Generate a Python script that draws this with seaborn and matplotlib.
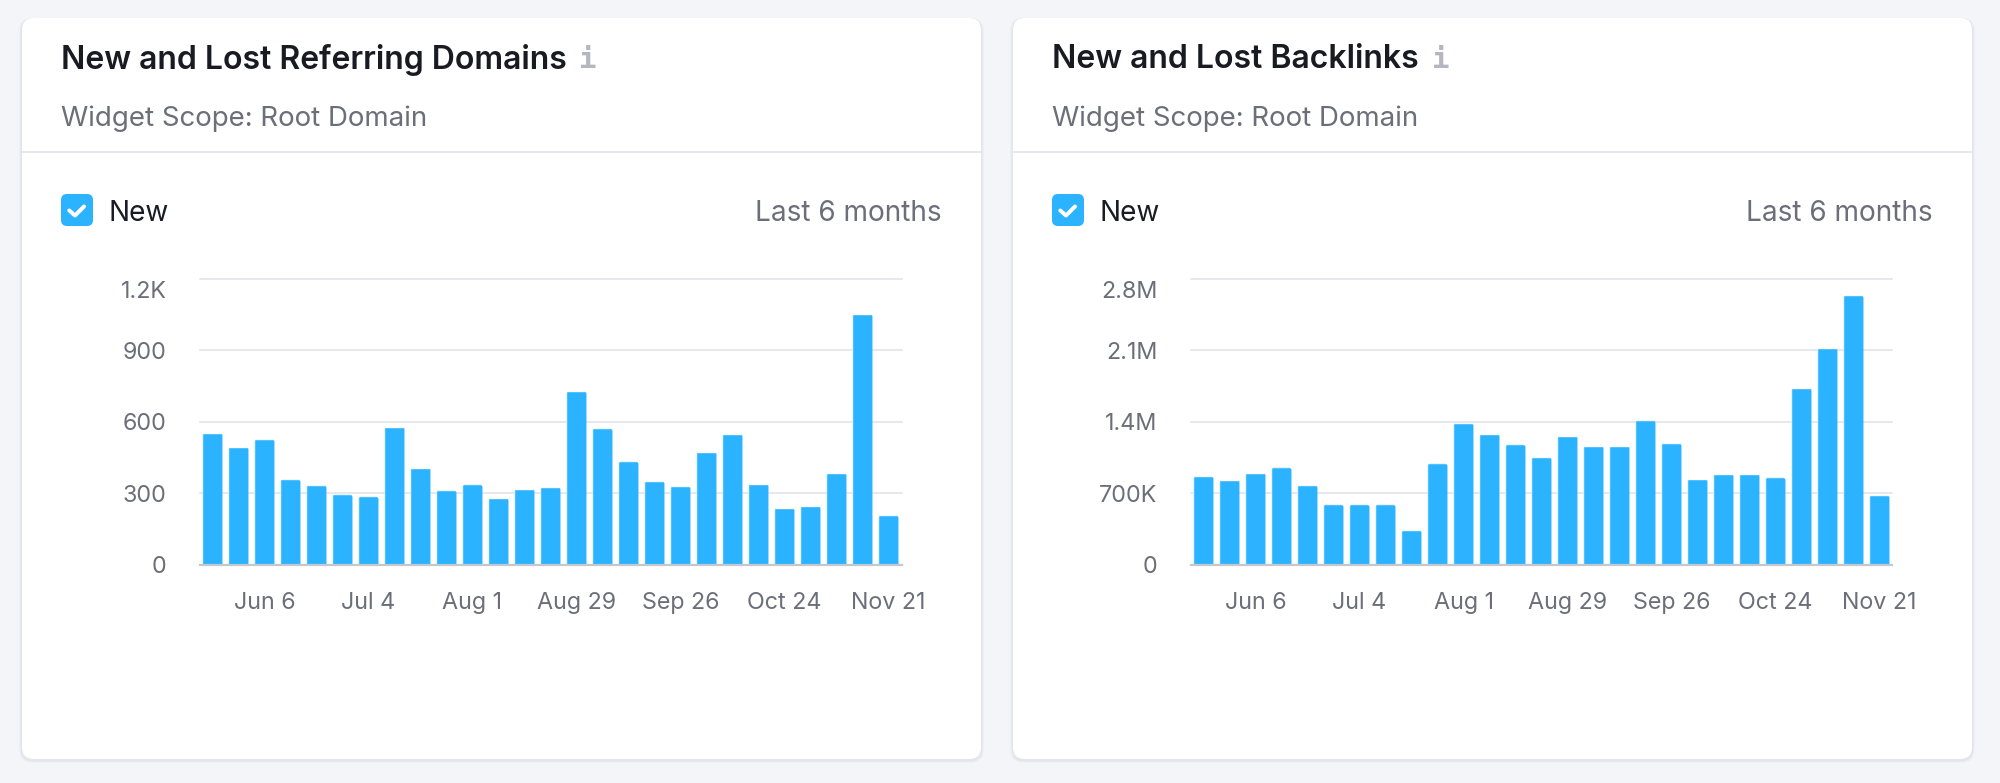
import matplotlib
matplotlib.use("Agg")
import matplotlib.pyplot as plt
import seaborn as sns
from matplotlib.patches import FancyBboxPatch
from matplotlib.transforms import IdentityTransform, ScaledTranslation

weeks = ["May 23", "May 30", "Jun 6", "Jun 13", "Jun 20", "Jun 27", "Jul 4", "Jul 11", "Jul 18",
         "Jul 25", "Aug 1", "Aug 8", "Aug 15", "Aug 22", "Aug 29", "Sep 5", "Sep 12", "Sep 19",
         "Sep 26", "Oct 3", "Oct 10", "Oct 17", "Oct 24", "Oct 31", "Nov 7", "Nov 14", "Nov 21"]
shown_weeks = ["Jun 6", "Jul 4", "Aug 1", "Aug 29", "Sep 26", "Oct 24", "Nov 21"]

domains_title = "New and Lost Referring Domains"
domains_new = [554, 495, 527, 359, 334, 296, 287, 580, 408, 313, 337, 281, 319, 326, 729, 573, 434,
               351, 330, 475, 550, 341, 239, 248, 385, 1053, 208]
domains_ticks = [0, 300, 600, 900, 1200]
domains_labels = ["0", "300", "600", "900", "1.2K"]

backlinks_title = "New and Lost Backlinks"
backlinks_new = [868000, 835000, 901000, 953000, 780000, 591000, 591000, 591000, 339000, 992000,
                 1387000, 1282000, 1178000, 1054000, 1263000, 1165000, 1165000, 1416000, 1191000,
                 842000, 891000, 891000, 855000, 1733000, 2124000, 2640000, 682000]
backlinks_ticks = [0, 700000, 1400000, 2100000, 2800000]
backlinks_labels = ["0", "700K", "1.4M", "2.1M", "2.8M"]

W, H = 2000, 783
BG = "#F4F5F9"
BLUE = "#2BB3FF"
GRID = "#E7E8EE"
BASE = "#C4C7CF"
DARK = "#191B23"
GRAY = "#6C6E79"

sns.set_theme(style="white")
plt.rcParams["font.family"] = ["Inter", "DejaVu Sans"]

fig = plt.figure(figsize=(W / 100, H / 100), dpi=100, facecolor=BG)
bg = fig.add_axes([0, 0, 1, 1])
bg.set_xlim(0, W)
bg.set_ylim(H, 0)
bg.axis("off")


def px(v):
    return v * 0.72


def card(left, right, top, bottom, title, title_info_x):
    for grow, col in [(2.5, "#ECEDF2"), (1.5, "#E4E5EB")]:
        bg.add_patch(FancyBboxPatch((left - grow + 12, top + 12), right - left + 2 * grow - 24,
                                    bottom - top + grow + 1 - 24,
                                    boxstyle="round,pad=12,rounding_size=13", fc=col, ec="none"))
    bg.add_patch(FancyBboxPatch((left + 12, top + 12), right - left - 24, bottom - top - 24,
                                boxstyle="round,pad=12,rounding_size=12", fc="white", ec="none"))
    bg.plot([left, right], [151.5, 151.5], color=GRID, lw=px(2), solid_capstyle="butt")
    tx = left + 39
    bg.text(tx, 56.5, title, fontsize=px(32), fontweight=600, color=DARK, va="center_baseline", ha="left")
    bg.text(title_info_x, 57, "i", fontsize=px(29), family="DejaVu Sans Mono",
            fontweight="bold", color="#B4B6C0", va="center_baseline", ha="center")
    bg.text(tx, 115.5, "Widget Scope: Root Domain", fontsize=px(27.7), color=GRAY, va="center_baseline", ha="left")
    bg.add_patch(FancyBboxPatch((tx + 6, 200), 20, 20, boxstyle="round,pad=6,rounding_size=6",
                                fc=BLUE, ec="none"))
    bg.plot([tx + 8.3, tx + 14, tx + 23], [210.5, 215.5, 206.5], color="white", lw=px(4),
            solid_capstyle="round", solid_joinstyle="round")
    bg.text(tx + 47.5, 210.2, "New", fontsize=px(28), color=DARK, va="center_baseline", ha="left")
    bg.text(right - 39, 210.2, "Last 6 months", fontsize=px(28), color=GRAY, va="center_baseline", ha="right")


def chart(left, right, values, ticks, labels):
    top_px, bottom_px = 278.8, 564.8
    ax = fig.add_axes([left / W, 1 - bottom_px / H, (right - left) / W, (bottom_px - top_px) / H])
    ax.patch.set_alpha(0)
    sns.barplot(x=weeks, y=values, color=BLUE, saturation=1, width=0.77, ax=ax, zorder=3)
    ax.set_ylim(ticks[0], ticks[-1])
    ax.set_yticks(ticks)
    ax.set_yticklabels(labels)
    ax.set_xticks([weeks.index(w) for w in shown_weeks])
    ax.set_xticklabels(shown_weeks)
    ax.tick_params(axis="both", length=0, labelsize=px(23.3), labelcolor=GRAY)
    ax.tick_params(axis="x", pad=px(27.5))
    ax.tick_params(axis="y", pad=px(33))
    for t in ticks[1:]:
        ax.axhline(t, color=GRID, lw=px(2), zorder=1, clip_on=False)
    for s in ["top", "left", "right"]:
        ax.spines[s].set_visible(False)
    ax.spines["bottom"].set_color(BASE)
    ax.spines["bottom"].set_linewidth(px(2.2))
    ax.spines["bottom"].set_zorder(5)
    top_label = ax.get_yticklabels()[-1]
    top_label.set_transform(top_label.get_transform() + ScaledTranslation(0, -10.5 / 100, fig.dpi_scale_trans))
    # round the upper corners of the bars
    fig.canvas.draw()
    r = 3.0
    for bar in ax.patches:
        b = bar.get_window_extent()
        clip = FancyBboxPatch((b.x0 + r, b.y0 - 10), b.width - 2 * r, b.height + 10 - r,
                              boxstyle=f"round,pad={r},rounding_size={r}", transform=IdentityTransform())
        bar.set_clip_path(clip)
    return ax


card(22, 981, 18, 759, domains_title, 588)
card(1013, 1972, 18, 759, backlinks_title, 1441)
chart(199.5, 901.5, domains_new, domains_ticks, domains_labels)
chart(1190.5, 1892.5, backlinks_new, backlinks_ticks, backlinks_labels)

fig.savefig("out.png", dpi=100, facecolor=BG)
